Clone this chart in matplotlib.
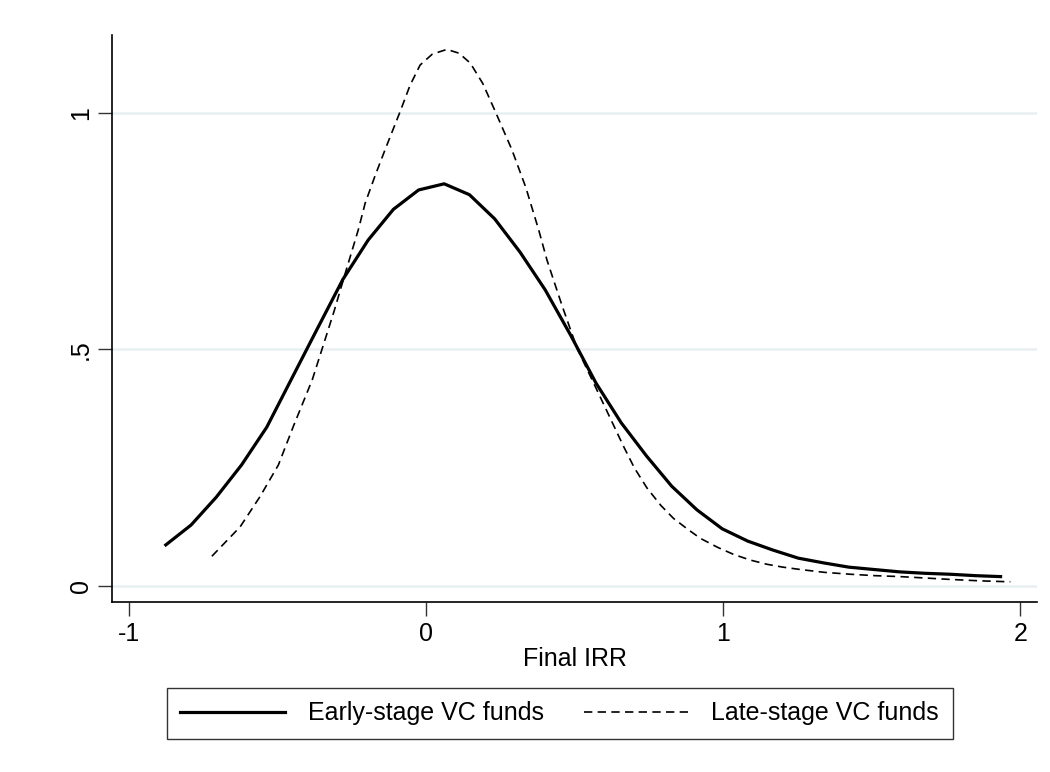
import matplotlib
matplotlib.use("Agg")
import matplotlib.pyplot as plt

plt.rcParams["font.family"] = ["Liberation Sans Narrow", "Liberation Sans", "DejaVu Sans"]

# kernel density, early-stage funds
early_x = [-0.877, -0.792, -0.707, -0.622, -0.537, -0.452, -0.366, -0.281,
           -0.196, -0.111, -0.026, 0.060, 0.145, 0.230, 0.315, 0.400,
           0.485, 0.571, 0.656, 0.741, 0.826, 0.911, 0.996, 1.082,
           1.167, 1.252, 1.337, 1.422, 1.507, 1.593, 1.678, 1.763,
           1.848, 1.933]
early_y = [0.087, 0.129, 0.188, 0.256, 0.336, 0.440, 0.545, 0.648,
           0.731, 0.796, 0.837, 0.850, 0.827, 0.776, 0.706, 0.626,
           0.531, 0.429, 0.345, 0.275, 0.211, 0.161, 0.121, 0.095,
           0.076, 0.059, 0.049, 0.040, 0.035, 0.030, 0.027, 0.025,
           0.022, 0.020]

# kernel density, late-stage funds
late_x = [-0.722, -0.627, -0.560, -0.498, -0.448, -0.384, -0.352, -0.310,
          -0.273, -0.229, -0.206, -0.172, -0.139, -0.088, -0.055, -0.021,
          0.020, 0.069, 0.110, 0.148, 0.190, 0.232, 0.288, 0.335,
          0.378, 0.406, 0.455, 0.507, 0.585, 0.664, 0.700, 0.743,
          0.790, 0.832, 0.880, 0.922, 0.980, 1.034, 1.090, 1.147,
          1.200, 1.259, 1.340, 1.427, 1.510, 1.595, 1.680, 1.764,
          1.866, 1.966]
late_y = [0.063, 0.125, 0.189, 0.256, 0.337, 0.436, 0.499, 0.582,
          0.661, 0.753, 0.809, 0.868, 0.922, 1.003, 1.058, 1.101,
          1.124, 1.134, 1.126, 1.105, 1.062, 1.003, 0.922, 0.842,
          0.753, 0.689, 0.596, 0.503, 0.400, 0.295, 0.250, 0.207,
          0.170, 0.143, 0.120, 0.101, 0.082, 0.067, 0.055, 0.046,
          0.040, 0.035, 0.029, 0.025, 0.022, 0.020, 0.017, 0.014,
          0.011, 0.009]

x_ticks = [-1, 0, 1, 2]
x_labels = ["-1", "0", "1", "2"]
y_ticks = [0, 0.5, 1]
y_labels = ["0", ".5", "1"]

fig = plt.figure(figsize=(10.5, 7.72), dpi=100)
ax = fig.add_axes([0.107, 0.220, 0.881, 0.735])

for yv in y_ticks:
    ax.axhline(yv, color="#e8f0f1", lw=1.8, zorder=0)

ax.plot(early_x, early_y, color="black", lw=2.3, label="Early-stage VC funds")
ax.plot(late_x, late_y, color="black", lw=1.2, dashes=(5, 3.2),
        label="Late-stage VC funds")

ax.set_xlim(-1.057, 2.057)
ax.set_ylim(-0.034, 1.165)
ax.set_xticks(x_ticks)
ax.set_xticklabels(x_labels)
ax.set_yticks(y_ticks)
ax.set_yticklabels(y_labels, rotation=90, va="center")
ax.tick_params(axis="both", length=10, width=1, color="#333333",
               labelsize=18, pad=4)

for s in ["top", "right"]:
    ax.spines[s].set_visible(False)
for s in ["left", "bottom"]:
    ax.spines[s].set_linewidth(1.2)

ax.set_xlabel("Final IRR", fontsize=18, labelpad=1)

leg = fig.legend(loc="center", bbox_to_anchor=(0.533, 0.076), ncol=2,
                 fontsize=18, frameon=True, fancybox=False,
                 edgecolor="black", handlelength=4.2, columnspacing=1.6,
                 borderpad=0.55, handletextpad=0.9)
leg.get_frame().set_linewidth(1.0)

fig.savefig("out.png", dpi=100, facecolor="white")
